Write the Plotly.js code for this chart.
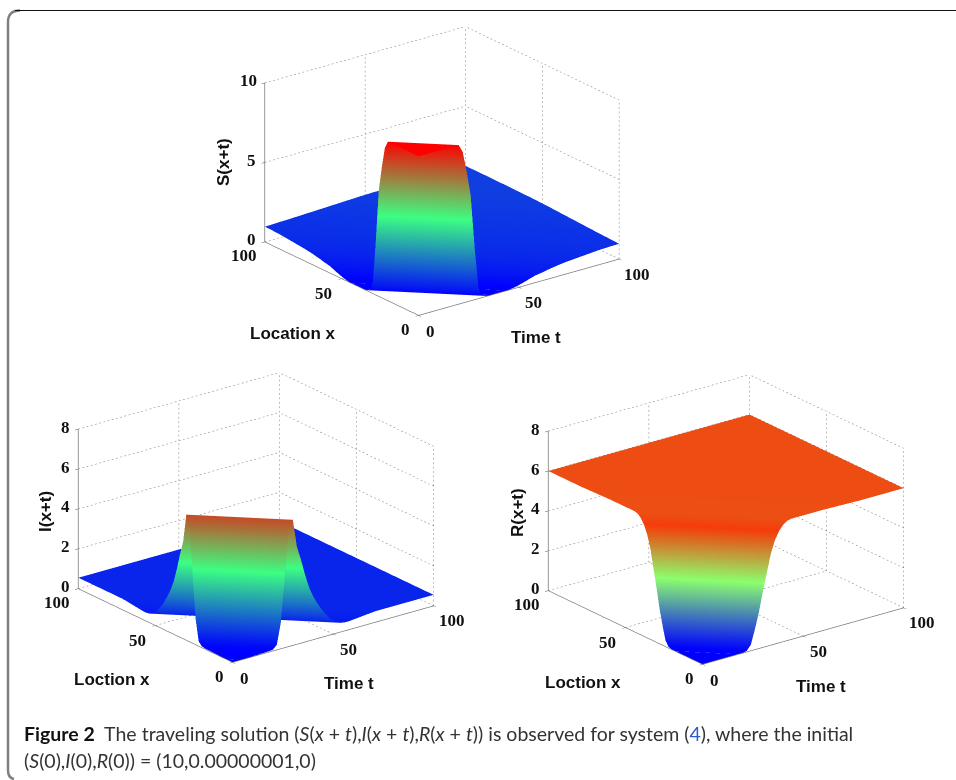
<!DOCTYPE html>
<html><head><meta charset="utf-8">
<script src="https://cdn.plot.ly/plotly-3.0.1.min.js"></script>
<style>html,body{margin:0;padding:0;background:#fff}#c{width:956px;height:780px}</style>
</head><body><div id="c"></div>
<script>
// x+t values at which the travelling profiles are read: 0,2,4,...,200
const waveSum = [0,2,4,6,8,10,12,14,16,18,20,22,24,26,28,30,32,34,36,38,40,42,44,46,48,50,52,54,56,58,60,62,64,66,68,70,72,74,76,78,80,82,84,86,88,90,92,94,96,98,100,102,104,106,108,110,112,114,116,118,120,122,124,126,128,130,132,134,136,138,140,142,144,146,148,150,152,154,156,158,160,162,164,166,168,170,172,174,176,178,180,182,184,186,188,190,192,194,196,198,200];
// fractions along each line x+t = const, across the square domain
const crossFractions = [0,0.5,1];
const profileS = [10,10,10,10,10,10,10,10,10,10,10,9.5,8.2,6.6,3.2,0.5,0.1,0.02,0,0,0,0,0,0.03,0.07,0.13,0.2,0.28,0.36,0.44,0.48,0.52,0.58,0.62,0.66,0.7,0.73,0.76,0.78,0.8,0.82,0.84,0.86,0.88,0.9,0.92,0.93,0.94,0.95,0.95,0.96,0.97,0.98,0.99,1,1,1.01,1.02,1.03,1.04,1.05,1.06,1.07,1.08,1.09,1.1,1.11,1.12,1.13,1.14,1.15,1.16,1.17,1.18,1.19,1.2,1.2,1.21,1.21,1.22,1.22,1.22,1.23,1.23,1.23,1.23,1.24,1.24,1.24,1.24,1.24,1.25,1.25,1.25,1.25,1.25,1.25,1.25,1.25,1.25,1.25];
const profileI = [0,0,0,0.01,0.01,0.02,0.02,0.03,0.03,0.04,0.06,0.25,1.3,3.6,5.8,6.3,4.9,4.2,3.4,2.7,2.2,1.8,1.45,1.15,0.9,0.7,0.55,0.45,0.42,0.42,0.44,0.46,0.48,0.5,0.52,0.54,0.55,0.55,0.55,0.55,0.55,0.55,0.55,0.55,0.55,0.55,0.55,0.55,0.55,0.55,0.55,0.55,0.55,0.55,0.55,0.55,0.55,0.55,0.55,0.55,0.55,0.55,0.55,0.55,0.55,0.55,0.55,0.55,0.55,0.55,0.55,0.55,0.55,0.55,0.55,0.55,0.55,0.55,0.55,0.55,0.55,0.55,0.55,0.55,0.55,0.55,0.55,0.55,0.55,0.55,0.55,0.55,0.55,0.55,0.55,0.55,0.55,0.55,0.55,0.55,0.55];
const profileR = [0,0,0,0,0,0,0,0,0,0,0.01,0.05,0.3,1,1.8,2.8,3.7,4.6,5.2,5.6,5.85,6,6.05,6.05,6.05,6.05,6.05,6.05,6.05,6.05,6.05,6.04,6.04,6.03,6.03,6.02,6.02,6.01,6.01,6,6,6,6,6,6,6,6,6,6,6,6,6,6,6,6,6,6,6,6,6,6,6,6,6,6,6,6,6,6,6,6,6,6,6,6,6,6,6,6,6,6,6,6,6,6,6,6,6,6,6,6,6,6,6,6,6,6,6,6,6,6];
// axis ticks
const horizontalTicks = [0,50,100];
const zTicksS = [0,5,10];
const zTicksI = [0,2,4,6,8];
const zTicksR = [0,2,4,6,8];
const eyeScale = 3;
const boxScale = 1.57;

const W=956,H=780;
const px=v=>v/W, py=v=>1-v/H;
const blueGreenRed=[[0,'rgb(0,0,255)'],[0.5,'rgb(60,255,130)'],[1,'rgb(255,0,0)']];
const orangeScale=[[0,'rgb(0,0,255)'],[0.53,'rgb(140,255,110)'],[0.93,'rgb(245,60,10)'],[1,'rgb(236,78,20)']];

function surfaceTrace(profile,scene,cmax,scale){
  // rows follow the lines x+t = const, so the ridge lies along the mesh
  const timeAt=(s,f)=>{const a=Math.max(0,s-100),b=Math.min(s,100);return a+(b-a)*f;};
  const X=waveSum.map(s=>crossFractions.map(f=>timeAt(s,f)));
  const Y=waveSum.map(s=>crossFractions.map(f=>s-timeAt(s,f)));
  const Z=profile.map(v=>crossFractions.map(()=>v));
  return {type:'surface',scene,x:X,y:Y,z:Z,cmin:0,cmax,colorscale:scale,showscale:false,
    hoverinfo:'skip',lighting:{ambient:1,diffuse:0,specular:0,roughness:1,fresnel:0},contours:{x:{show:false},y:{show:false},z:{show:false}}};
}
function gridTrace(zTicks,scene){
  const zMax=zTicks[zTicks.length-1],X=[],Y=[],Z=[];
  // each grid line is a row of short dashes, like the fine dotted grid of the original
  const dotted=(a,b,n)=>{
    for(let k=0;k<n;k++){
      const p=k/n,q=(k+0.42)/n;
      X.push(a[0]+(b[0]-a[0])*p,a[0]+(b[0]-a[0])*q,null);
      Y.push(a[1]+(b[1]-a[1])*p,a[1]+(b[1]-a[1])*q,null);
      Z.push(a[2]+(b[2]-a[2])*p,a[2]+(b[2]-a[2])*q,null);
    }
  };
  horizontalTicks.forEach(v=>{
    dotted([v,100,0],[v,100,zMax],36);
    dotted([100,v,0],[100,v,zMax],36);
    dotted([v,0,0],[v,100,0],40);
    dotted([0,v,0],[100,v,0],48);
  });
  zTicks.forEach(v=>{ dotted([0,100,v],[100,100,v],48); dotted([100,0,v],[100,100,v],40); });
  return {type:'scatter3d',mode:'lines',scene,x:X,y:Y,z:Z,connectgaps:false,showlegend:false,hoverinfo:'skip',
    line:{color:'#777777',width:1}};
}
const tickFont={family:'"Liberation Serif"',size:17,color:'#111'};
function tickNotes(zTicks){
  const a=[];
  const note=(x,y,z,text,xshift,yshift)=>a.push({x,y,z,text:'<b>'+text+'</b>',showarrow:false,xshift,yshift,xanchor:'center',yanchor:'middle',font:tickFont});
  const locOff=[[-13,-14],[-18,-15],[-21,-14]], timeOff=[[12,-16],[15,-15],[18,-15]];
  horizontalTicks.forEach((v,i)=>{
    note(0,v,0,String(v),locOff[i][0],locOff[i][1]);
    note(v,0,0,String(v),timeOff[i][0],timeOff[i][1]);
  });
  zTicks.forEach(v=>note(0,100,v,String(v),String(v).length>1?-16:-13,2));
  return a;
}
function sceneLayout(d,zTicks){
  const axis=(range,tickvals)=>({range,tickvals,ticktext:tickvals.map(String),showgrid:false,zeroline:false,showline:true,linecolor:'#777',linewidth:1.5,
    ticks:'outside',ticklen:4,tickcolor:'#555',showticklabels:false,showbackground:false,showspikes:false,title:{text:''}});
  return {domain:{x:[px(d[0]),px(d[2])],y:[py(d[3]),py(d[1])]},
    xaxis:axis([0,100],horizontalTicks),yaxis:axis([0,100],horizontalTicks),zaxis:axis([0,zTicks[zTicks.length-1]],zTicks),
    aspectmode:'manual',aspectratio:{x:boxScale,y:boxScale,z:0.676*boxScale},
    camera:{eye:{x:-0.566*eyeScale,y:-0.738*eyeScale,z:0.366*eyeScale},up:{x:0,y:0,z:1},center:{x:0,y:0,z:0},projection:{type:'orthographic'}},
    annotations:tickNotes(zTicks)};
}
const titleFont={family:'"Liberation Sans"',size:17,color:'#111'};
const label=(x,y,text,angle)=>({xref:'paper',yref:'paper',x:px(x),y:py(y),text:'<b>'+text+'</b>',showarrow:false,xanchor:'center',yanchor:'middle',font:titleFont,textangle:angle||0});
const capFont={family:'Lato',size:19.5,color:'#333'};
const capLine=(y,text)=>({xref:'paper',yref:'paper',x:px(22),y:py(y),text,showarrow:false,xanchor:'left',yanchor:'middle',align:'left',font:capFont});

const data=[
  surfaceTrace(profileS,'scene',10,blueGreenRed),gridTrace(zTicksS,'scene'),
  surfaceTrace(profileI,'scene2',7.4,blueGreenRed),gridTrace(zTicksI,'scene2'),
  surfaceTrace(profileR,'scene3',6.05,orangeScale),gridTrace(zTicksR,'scene3')
];
const layout={width:W,height:H,margin:{l:0,r:0,t:0,b:0},paper_bgcolor:'#fff',showlegend:false,
  scene:sceneLayout([242,10,642,332],zTicksS),
  scene2:sceneLayout([56,356,456,679],zTicksI),
  scene3:sceneLayout([526,358,926,681],zTicksR),
  shapes:[
    {type:'path',xref:'paper',yref:'paper',path:`M ${px(14)} ${py(779)} Q ${px(8)} ${py(778)} ${px(8)} ${py(770)} L ${px(8)} ${py(22)} Q ${px(8)} ${py(10.5)} ${px(20)} ${py(10.5)}`,line:{color:'#808080',width:2.5}},
    {type:'path',xref:'paper',yref:'paper',path:`M ${px(15)} ${py(10.5)} L ${px(956)} ${py(10.5)}`,line:{color:'#111',width:1}}
  ],
  annotations:[
    label(293,333,'Location x'),label(536,337,'Time t'),label(223,162,'S(x+t)',-90),
    label(112,679,'Loction x'),label(349,683,'Time t'),label(45,512,'I(x+t)',-90),
    label(583,682,'Loction x'),label(821,686,'Time t'),label(517,513,'R(x+t)',-90),
    capLine(733,'<b style="color:#111">Figure 2</b>  The traveling solution (<i>S</i>(<i>x</i> + <i>t</i>),<i>I</i>(<i>x</i> + <i>t</i>),<i>R</i>(<i>x</i> + <i>t</i>)) is observed for system (<span style="color:#2a5bd0">4</span>), where the initial'),
    capLine(760,'(<i>S</i>(0),<i>I</i>(0),<i>R</i>(0)) = (10,0.00000001,0)')
  ]};
Plotly.newPlot('c',data,layout,{displayModeBar:false});
</script></body></html>
